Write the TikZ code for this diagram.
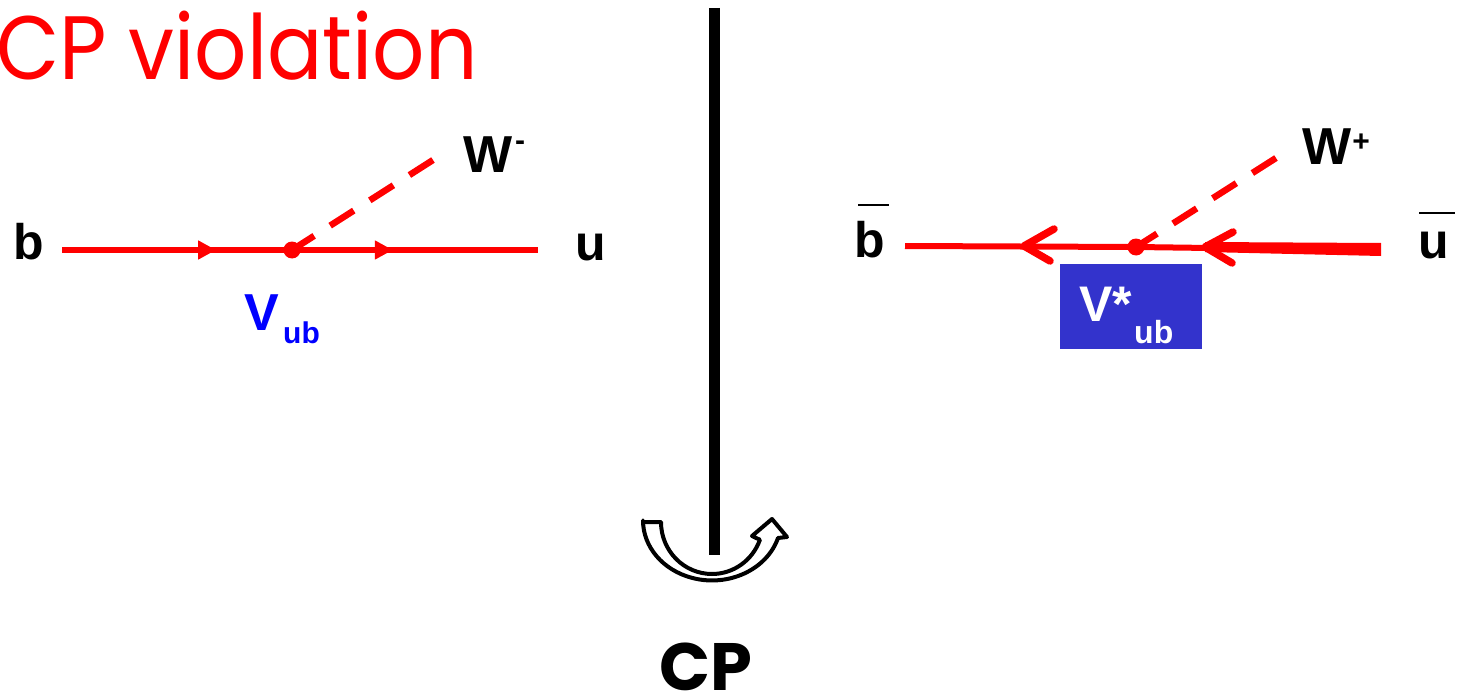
\documentclass[tikz,border=0pt]{standalone}
\usepackage{fontspec}
\setmainfont{Liberation Sans}
\newfontfamily\pop{Poppins}
\usetikzlibrary{arrows.meta,decorations.markings}
\definecolor{qred}{RGB}{255,0,0}
\definecolor{vblue}{RGB}{0,0,255}
\definecolor{boxblue}{RGB}{51,51,204}
\begin{document}
\begin{tikzpicture}[x=1pt,y=-1pt,
  lab/.style={inner sep=0pt, font=\bfseries\fontsize{50}{50}\selectfont},
  wlab/.style={inner sep=0pt, font=\bfseries\fontsize{52}{52}\selectfont},
  supl/.style={inner sep=0pt, font=\bfseries\fontsize{30}{30}\selectfont},
  fermion/.style={draw=qred, line width=6pt},
  wline/.style={draw=qred, line width=6.5pt, dash pattern=on 28pt off 19pt},
  vtx/.style={circle, fill=qred, minimum size=17pt, inner sep=0pt},
  barb/.style={draw=qred, line width=7.5pt, line cap=round, line join=round},
  fwd/.style={postaction={decorate, decoration={markings,
     mark=at position #1 with {\arrow{Triangle[length=18pt,width=18pt]}}}}},
]
\useasboundingbox (0,0) rectangle (1460,698);

% title
\node[anchor=base west, inner sep=0pt, text=qred, font=\pop\fontsize{90}{90}\selectfont] (title) at (-4,80) {\scalebox{0.91}[1]{CP violation}};

% mirror line and CP
\coordinate (mtop) at (714,8);
\coordinate (mbot) at (714,555);
\draw[line width=11pt] (mtop) -- (mbot);
\draw[line width=4pt, fill=white, line join=round]
  (643,522) -- (661,522)
  arc[start angle=180, end angle=20, x radius=51, y radius=52]
  -- (752,536) -- (772,519) -- (787,537) -- (778,538)
  arc[start angle=17, end angle=180, x radius=69, y radius=60] -- cycle;
\node[anchor=base, inner sep=0pt, font=\pop\bfseries\fontsize{67}{67}\selectfont] (cp) at (706,690) {CP};

% left diagram
\node[lab, anchor=base west] (b) at (13,259) {b};
\node[lab, anchor=base west] (u) at (575,260) {u};
\coordinate (bl) at (62,250);
\coordinate (ur) at (538,250);
\node[vtx] (v1) at (292,250) {};
\coordinate (w1) at (433,160);
\draw[fermion, fwd=0.67] (bl) -- (v1.center);
\draw[fermion, fwd=0.41] (v1.center) -- (ur);
\draw[wline] (w1) -- (v1.center);
\node[wlab, anchor=base west] (W1) at (463,172) {W};
\node[supl] (m1) at (520,146) {-};
\node[anchor=base west, inner sep=0pt, text=vblue, font=\bfseries\fontsize{52}{52}\selectfont] (V1) at (244,330) {V};
\node[anchor=base west, inner sep=0pt, text=vblue, font=\bfseries\fontsize{30}{30}\selectfont] (ub1) at (283,343) {ub};

% right diagram
\node[lab, anchor=base west] (bb) at (854,257) {b};
\coordinate (bbarl) at (858,205); \coordinate (bbarr) at (889,205);
\draw[line width=2.2pt] (bbarl) -- (bbarr);
\node[lab, anchor=base west] (ub) at (1418,258) {u};
\coordinate (ubarl) at (1419,213); \coordinate (ubarr) at (1455,213);
\draw[line width=2.2pt] (ubarl) -- (ubarr);

\node[fill=boxblue, minimum width=142pt, minimum height=85pt, inner sep=0pt] (box) at (1131,306) {};
\node[anchor=base west, inner sep=0pt, text=white, font=\bfseries\fontsize{50}{50}\selectfont] (V2) at (1079,321) {V*};
\node[anchor=base west, inner sep=0pt, text=white, font=\bfseries\fontsize{32}{32}\selectfont] (ub2) at (1134,343) {ub};

\coordinate (bbl) at (905,246);
\coordinate (ubr) at (1381,249);
\node[vtx] (v2) at (1136,247) {};
\coordinate (w2) at (1276,158);
\draw[fermion] (bbl) -- (v2.center) -- (1210,248);
\fill[qred] (1205,242) -- (ubr |- 0,243) -- (1381,256) -- (1205,252) -- cycle;
\draw[barb] (1054,229) -- (1024,246) -- (1050,261);
\draw[barb] (1233,232) -- (1205,247) -- (1232,263);
\draw[wline] (w2) -- (v2.center);
\node[wlab, anchor=base west] (W2) at (1302,165) {W};
\node[supl] (p2) at (1361,143) {+};
\end{tikzpicture}
\end{document}
